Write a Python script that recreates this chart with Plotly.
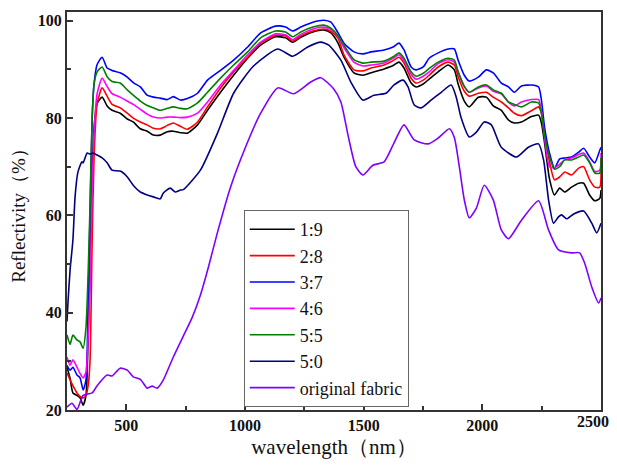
import plotly.graph_objects as go

# common wavelength grid (nm) for the five blended samples
wl = [250, 263, 275, 292, 305, 318, 330, 339, 347, 356, 364, 377, 398, 419, 440, 474, 504, 529,
      559, 588, 614, 643, 673, 698, 728, 757, 800, 842, 897, 952, 1011, 1066, 1129, 1171, 1201,
      1235, 1286, 1332, 1362, 1391, 1417, 1459, 1497, 1531, 1586, 1624, 1649, 1670, 1700, 1721,
      1751, 1776, 1814, 1856, 1882, 1898, 1924, 1945, 1983, 2017, 2046, 2080, 2110, 2135, 2165,
      2207, 2237, 2249, 2262, 2283, 2304, 2326, 2347, 2376, 2406, 2427, 2452, 2474, 2495, 2500]

r_1_9 = [28.8, 26.5, 23.5, 23.0, 22.5, 21.0, 23.0, 35.0, 50.0, 68.0, 78.0, 83.0, 84.3, 82.5, 81.6, 81.0,
         79.8, 79.2, 77.8, 77.3, 76.5, 76.5, 77.2, 77.3, 77.0, 76.9, 78.6, 81.6, 85.3, 88.8, 92.3, 95.0,
         96.7, 96.5, 95.6, 96.6, 97.7, 98.1, 97.5, 95.5, 92.5, 89.3, 88.8, 89.3, 90.1, 90.8, 91.5, 90.3,
         87.2, 86.4, 87.0, 88.0, 89.5, 90.9, 89.9, 87.0, 83.5, 82.3, 84.3, 84.3, 82.5, 81.6, 79.6, 79.0,
         79.2, 80.3, 80.6, 79.0, 75.0, 67.5, 64.2, 65.6, 64.8, 65.8, 66.6, 66.6, 64.2, 63.0, 63.5, 65.2]

r_2_8 = [27.6, 26.2, 25.0, 23.5, 22.8, 22.5, 23.0, 25.0, 30.0, 55.0, 72.0, 83.0, 86.2, 84.5, 82.8, 82.1,
         81.0, 80.0, 79.2, 78.6, 77.9, 77.8, 78.5, 79.0, 78.3, 77.7, 79.2, 82.3, 86.2, 89.5, 92.5, 95.4,
         97.0, 96.9, 95.8, 96.9, 97.9, 98.3, 97.8, 96.5, 93.0, 89.9, 89.7, 90.3, 90.9, 91.8, 92.5, 91.3,
         88.2, 87.2, 87.8, 88.8, 90.5, 91.5, 90.9, 88.5, 85.5, 84.5, 85.1, 85.3, 84.3, 83.3, 82.1, 81.0,
         80.5, 81.5, 82.3, 81.0, 77.0, 71.0, 67.3, 67.9, 68.9, 68.3, 69.7, 70.0, 67.3, 65.8, 65.8, 70.0]

r_3_7 = [29.2, 28.2, 28.8, 27.2, 26.6, 24.1, 26.2, 42.0, 60.0, 80.0, 87.0, 91.0, 92.5, 90.3, 89.8, 89.3,
         88.4, 87.3, 86.4, 84.7, 84.3, 84.1, 83.8, 84.4, 83.7, 84.0, 85.1, 87.8, 89.8, 91.9, 94.6, 97.5,
         98.9, 98.7, 97.9, 98.7, 99.7, 100.1, 99.7, 97.6, 95.4, 93.6, 93.2, 93.6, 94.0, 94.6, 95.4, 94.0,
         90.5, 89.9, 90.5, 92.3, 93.4, 94.2, 94.2, 91.9, 88.8, 87.6, 88.4, 89.9, 89.3, 87.2, 86.4, 85.3,
         86.6, 86.8, 86.4, 83.7, 78.2, 72.8, 69.7, 71.6, 71.8, 72.0, 73.0, 73.8, 72.0, 70.8, 73.4, 74.0]

r_4_6 = [30.9, 29.2, 30.3, 28.8, 27.5, 26.6, 27.8, 35.0, 45.0, 65.0, 77.0, 85.0, 88.2, 86.5, 85.0, 84.3,
         83.5, 82.8, 81.8, 80.8, 80.2, 80.0, 80.2, 80.2, 80.1, 80.2, 81.0, 83.3, 86.8, 89.8, 93.0, 95.6,
         97.3, 97.1, 96.1, 97.2, 98.3, 98.7, 98.2, 96.8, 94.5, 91.5, 90.7, 90.9, 91.3, 92.3, 93.0, 91.8,
         89.0, 88.0, 88.6, 89.5, 91.2, 92.0, 91.5, 89.5, 86.5, 85.3, 86.2, 86.6, 85.5, 85.0, 83.3, 82.5,
         83.3, 83.8, 83.8, 81.5, 76.0, 70.0, 69.8, 70.5, 71.4, 71.8, 72.5, 72.8, 71.0, 69.0, 69.3, 72.8]

r_5_5 = [35.4, 33.5, 35.4, 34.4, 34.0, 32.7, 37.0, 48.0, 62.0, 80.0, 87.0, 89.5, 90.5, 88.5, 87.5, 87.2,
         85.8, 84.7, 83.5, 82.6, 82.1, 81.6, 82.0, 82.3, 82.0, 81.9, 83.1, 85.3, 88.2, 90.9, 93.6, 96.5,
         97.9, 97.7, 96.7, 97.7, 98.7, 99.1, 98.5, 97.0, 95.0, 92.0, 91.3, 91.5, 91.7, 92.6, 93.4, 92.3,
         89.5, 88.6, 89.2, 90.2, 91.5, 92.3, 91.9, 89.5, 86.5, 85.3, 86.4, 86.8, 85.8, 85.1, 83.3, 82.8,
         82.3, 83.3, 83.1, 81.0, 76.5, 72.0, 69.5, 70.0, 71.4, 71.4, 72.0, 72.4, 70.8, 68.7, 68.7, 71.8]

wl_5_0 = [250, 254, 263, 275, 284, 296, 313, 318, 335, 347, 360, 377, 398, 419, 440, 474, 504, 529, 559,
          588, 614, 643, 656, 685, 706, 728, 740, 812, 884, 952, 1036, 1138, 1201, 1264, 1319, 1353, 1404,
          1446, 1497, 1543, 1594, 1628, 1666, 1687, 1713, 1742, 1784, 1827, 1869, 1890, 1911, 1945, 1975,
          2008, 2038, 2080, 2144, 2194, 2237, 2258, 2279, 2300, 2321, 2334, 2355, 2385, 2427, 2461, 2482, 2500]
r_5_0 = [38.2, 42.0, 48.8, 55.0, 63.8, 68.9, 71.0, 70.8, 72.8, 72.6, 72.8, 72.4, 71.8, 70.8, 69.3, 69.1,
         67.9, 66.2, 64.8, 64.2, 63.8, 63.4, 64.6, 65.6, 64.8, 65.2, 65.3, 69.3, 76.9, 85.1, 90.7, 94.2,
         92.7, 94.6, 95.6, 95.0, 91.9, 87.4, 83.7, 84.7, 85.1, 86.8, 87.8, 86.4, 82.7, 82.1, 83.7, 85.3,
         86.8, 84.3, 80.0, 76.1, 77.1, 79.2, 78.6, 74.0, 72.0, 74.0, 74.7, 71.4, 63.2, 58.4, 59.7, 60.1,
         59.3, 60.3, 60.9, 58.4, 56.4, 58.4]

wl_orig = [250, 271, 292, 318, 356, 377, 419, 440, 474, 504, 529, 559, 588, 609, 630, 656, 698, 740, 778,
           812, 846, 884, 939, 1002, 1066, 1138, 1205, 1277, 1319, 1374, 1404, 1434, 1467, 1497, 1539,
           1586, 1628, 1670, 1713, 1772, 1814, 1861, 1882, 1903, 1924, 1945, 1975, 2008, 2046, 2080,
           2110, 2165, 2237, 2279, 2321, 2376, 2410, 2431, 2461, 2490, 2500]
r_orig = [20.6, 21.4, 20.1, 23.0, 23.5, 25.0, 27.2, 27.0, 28.6, 28.2, 26.8, 26.3, 24.5, 24.9, 24.5, 26.2,
          30.9, 35.2, 39.1, 43.6, 49.4, 56.5, 65.8, 74.0, 81.0, 86.2, 85.0, 87.4, 88.3, 86.0, 83.3, 76.5,
          70.0, 68.3, 70.3, 71.0, 74.9, 78.6, 75.5, 74.7, 75.9, 77.8, 76.0, 70.0, 63.2, 59.5, 61.5, 66.2,
          63.2, 57.0, 55.2, 59.0, 63.0, 57.0, 52.9, 52.3, 52.3, 50.2, 45.3, 42.0, 43.0]

x_ticks = [500, 1000, 1500, 2000]
x_last_tick = [2500]
y_ticks = [20, 40, 60, 80, 100]

names = ["1:9", "2:8", "3:7", "4:6", "5:5", "5:0", "original fabric"]
colors = ["#000000", "#FF0000", "#0000FF", "#FF00FF", "#008000", "#000080", "#8000FF"]

series = [(wl, r_1_9), (wl, r_2_8), (wl, r_3_7), (wl, r_4_6), (wl, r_5_5), (wl_5_0, r_5_0), (wl_orig, r_orig)]

fig = go.Figure()
for (xs, ys), n, c in zip(series, names, colors):
    fig.add_trace(go.Scatter(x=xs, y=ys, mode="lines", name=n,
                             line=dict(color=c, width=1.6, shape="spline", smoothing=0.6)))
# empty helper trace so that the overlay axis (last tick label) is drawn
fig.add_trace(go.Scatter(x=[], y=[], xaxis="x2", yaxis="y", showlegend=False, hoverinfo="skip"))

serif = "'Liberation Serif', 'Times New Roman', serif"
tick_font = dict(family=serif, size=16, color="#111111")
axis_common = dict(showline=True, linecolor="#333333", linewidth=2, mirror=True,
                   ticks="inside", ticklen=6, tickwidth=1.5, tickcolor="#333333",
                   showgrid=False, zeroline=False, automargin=False, tickfont=tick_font)

x_range = [250, 2500]
fig.update_layout(xaxis=dict(range=x_range, tickvals=x_ticks,
                             ticktext=["<b>%d</b>" % v for v in x_ticks],
                             minor=dict(tickvals=[250, 750, 1250, 1750, 2250], ticks="inside", ticklen=4,
                                        tickwidth=1.5, tickcolor="#333333"),
                             title=dict(text="wavelength（nm）",
                                        font=dict(family=serif, size=21, color="#111111"), standoff=14),
                             **axis_common))
fig.update_layout(yaxis=dict(range=[20, 101.8], tickvals=y_ticks,
                             ticktext=["<b>%d</b>" % v for v in y_ticks],
                             minor=dict(tickvals=[30, 50, 70, 90], ticks="inside", ticklen=4,
                                        tickwidth=1.5, tickcolor="#333333"),
                             title=dict(text="Reflectivity（%）",
                                        font=dict(family=serif, size=19, color="#111111"), standoff=28),
                             **axis_common))

# overlay axis carrying only the last x tick, nudged so it stays inside the page
fig.update_layout(xaxis2=dict(overlaying="x", side="bottom", anchor="y", range=x_range,
                              tickvals=x_last_tick, ticktext=["<b>%d</b>" % v for v in x_last_tick],
                              ticks="", showline=False, showgrid=False, zeroline=False,
                              automargin=False, tickfont=tick_font, ticklabelshift=-8,
                              ticklabeloverflow="allow"))

# the page body adds an 8px offset on every side, so the figure is 16px smaller than the window
fig.update_layout(width=609, height=451, margin=dict(l=59, r=16, t=4, b=49),
                  paper_bgcolor="white", plot_bgcolor="white", showlegend=True,
                  legend=dict(x=0.331, y=0.5025, xanchor="left", yanchor="top",
                              bgcolor="white", bordercolor="#666666", borderwidth=1,
                              font=dict(family=serif, size=18, color="#111111"),
                              itemwidth=45, tracegroupgap=0))

fig.write_html("out.html")
